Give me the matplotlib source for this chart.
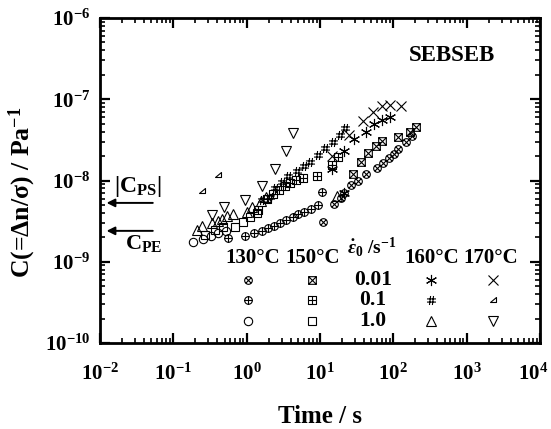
import numpy as np
import matplotlib
matplotlib.use("Agg")
import matplotlib.pyplot as plt
from matplotlib.path import Path
from matplotlib.ticker import LogLocator, NullFormatter
from matplotlib.transforms import ScaledTranslation

plt.rcParams.update({
    "font.family": "serif",
    "font.serif": ["Liberation Serif", "DejaVu Serif"],
    "font.weight": "bold",
    "mathtext.fontset": "custom",
    "mathtext.rm": "Liberation Serif:bold",
    "mathtext.it": "Liberation Serif:italic:bold",
    "mathtext.bf": "Liberation Serif:bold",
    "axes.unicode_minus": False,
})

# ---- data (t in s, C in Pa^-1) ----
t_130_001 = [11.0, 15.5, 19.4, 21.2, 26.5, 33.0, 42.4, 59.8, 72.3, 87.3, 102, 116, 149, 180]
C_130_001 = [3.08e-9, 5.14e-9, 6.10e-9, 7.02e-9, 8.81e-9, 9.86e-9, 1.20e-8, 1.43e-8, 1.64e-8,
             1.89e-8, 2.12e-8, 2.44e-8, 2.98e-8, 3.53e-8]
t_130_01 = [0.557, 0.948, 1.26, 1.62, 1.95, 2.36, 2.85, 3.44, 4.29, 5.01, 6.05, 7.53, 9.40, 10.6]
C_130_01 = [1.96e-9, 2.07e-9, 2.26e-9, 2.39e-9, 2.60e-9, 2.75e-9, 3.00e-9, 3.27e-9, 3.56e-9,
            3.87e-9, 4.09e-9, 4.46e-9, 4.99e-9, 7.21e-9]
t_130_1 = [0.185, 0.254, 0.327, 0.406, 0.522]
C_130_1 = [1.75e-9, 1.91e-9, 2.07e-9, 2.26e-9, 2.39e-9]

t_150_001 = [28.2, 36.2, 45.2, 58.1, 70.2, 116, 169, 204]
C_150_001 = [1.20e-8, 1.69e-8, 2.18e-8, 2.66e-8, 3.06e-8, 3.43e-8, 3.95e-8, 4.55e-8]
t_150_01 = [1.43, 1.89, 2.29, 2.76, 3.33, 3.90, 4.71, 5.86, 9.10, 14.6, 17.6]
C_150_01 = [4.34e-9, 5.92e-9, 6.82e-9, 7.64e-9, 8.55e-9, 9.31e-9, 1.01e-8, 1.07e-8, 1.14e-8,
            1.55e-8, 1.95e-8]
t_150_1 = [0.270, 0.370, 0.475, 0.693, 0.891, 1.11, 1.38]
C_150_1 = [2.13e-9, 2.46e-9, 2.68e-9, 2.68e-9, 3.08e-9, 3.56e-9, 3.98e-9]

t_160_001 = [21.2, 14.6, 21.2, 29.1, 42.4, 54.5, 70.2, 90.2]
C_160_001 = [7.02e-9, 1.39e-8, 2.31e-8, 3.24e-8, 3.95e-8, 4.95e-8, 5.56e-8, 6.05e-8]
t_160_01 = [1.62, 2.08, 2.43, 3.03, 3.66, 4.85, 6.05, 7.31, 9.40, 11.7, 15.0, 18.7, 21.9]
C_160_01 = [5.75e-9, 6.27e-9, 8.09e-9, 9.59e-9, 1.14e-8, 1.31e-8, 1.51e-8, 1.69e-8, 2.06e-8,
            2.51e-8, 2.98e-8, 3.63e-8, 4.43e-8]
t_160_1 = [0.210, 0.246, 0.337, 0.406, 0.461, 0.540, 0.652, 1.01, 1.18, 1.57, 1.84, 17.1]
C_160_1 = [2.46e-9, 2.75e-9, 3.00e-9, 3.18e-9, 3.36e-9, 3.66e-9, 3.87e-9, 4.09e-9, 4.72e-9,
           5.60e-9, 6.27e-9, 6.44e-9]

t_170_001 = [14.6, 24.8, 38.6, 52.8, 70.2, 90.2, 127]
C_170_001 = [2.0e-8, 3.63e-8, 5.4e-8, 6.97e-8, 8.26e-8, 8.5e-8, 8.26e-8]
t_170_01 = [0.246, 0.406]
C_170_01 = [7.43e-9, 1.17e-8]
t_170_1 = [0.337, 0.491, 0.948, 1.62, 2.43, 3.44, 4.29]
C_170_1 = [3.76e-9, 4.72e-9, 5.75e-9, 8.55e-9, 1.39e-8, 2.31e-8, 3.85e-8]

C_PS = 5.3e-9
C_PE = 2.4e-9

temps = ["130°C", "150°C", "160°C", "170°C"]
rates = ["0.01", "0.1", "1.0"]

# ---- custom open markers ----
M, L, C = Path.MOVETO, Path.LINETO, Path.CLOSEPOLY
circ = Path.unit_circle()
sq = Path([(-1, -1), (1, -1), (1, 1), (-1, 1), (-1, -1)], [M, L, L, L, C])
xin_c = Path([(-.7, -.7), (.7, .7), (-.7, .7), (.7, -.7)], [M, L, M, L])
pin_c = Path([(-1, 0), (1, 0), (0, -1), (0, 1)], [M, L, M, L])
xin_s = Path([(-1, -1), (1, 1), (-1, 1), (1, -1)], [M, L, M, L])
otimes = Path.make_compound_path(circ, xin_c)
oplus = Path.make_compound_path(circ, pin_c)
boxtimes = Path.make_compound_path(sq, xin_s)
boxplus = Path.make_compound_path(sq, pin_c)
hashm = Path([(-.45, -1), (-.2, 1), (.2, -1), (.45, 1), (-1, .35), (1, .35), (-1, -.35), (1, -.35)],
             [M, L, M, L, M, L, M, L])
rtri = Path([(-1, -.6), (1, -.6), (1, 1), (-1, -.6)], [M, L, L, C])

series = [
    (t_130_001, C_130_001, otimes, 5.5), (t_130_01, C_130_01, oplus, 5.5), (t_130_1, C_130_1, "o", 6),
    (t_150_001, C_150_001, boxtimes, 5.5), (t_150_01, C_150_01, boxplus, 5.5), (t_150_1, C_150_1, "s", 5.8),
    (t_160_001, C_160_001, (6, 2, 0), 8), (t_160_01, C_160_01, hashm, 6.5), (t_160_1, C_160_1, "^", 7),
    (t_170_001, C_170_001, "x", 7), (t_170_01, C_170_01, rtri, 5), (t_170_1, C_170_1, "v", 7),
]

fig = plt.figure(figsize=(5.51, 4.29), dpi=100)
ax = fig.add_axes([100 / 551, 1 - 343 / 429, 440 / 551, 325 / 429])
ax.set_xscale("log"); ax.set_yscale("log")
ax.set_xlim(1e-2, 1e4); ax.set_ylim(1e-10, 1e-6)

for t, c, mk, ms in series:
    ax.plot(t, c, ls="none", marker=mk, ms=ms, mfc="none", mec="black", mew=0.8)

# ---- axes styling ----
for s in ax.spines.values():
    s.set_linewidth(2)
for axis in (ax.xaxis, ax.yaxis):
    axis.set_major_locator(LogLocator(base=10, numticks=12))
    axis.set_minor_locator(LogLocator(base=10, subs=np.arange(2, 10), numticks=100))
    axis.set_minor_formatter(NullFormatter())
ax.tick_params(which="both", direction="in", top=True, right=True)
ax.tick_params(which="major", length=7, width=1.6, labelsize=15)
ax.tick_params(axis="x", which="major", pad=15)
ax.tick_params(axis="y", which="major", pad=7)
ax.tick_params(which="minor", length=3.5, width=1.2)

ax.set_xlabel("Time / s", fontsize=18, fontweight="bold")
ax.xaxis.set_label_coords(0.5, -0.19)
ax.set_ylabel("C(=Δn/σ) / Pa$^{-1}$", fontsize=18.5, fontweight="bold")
ax.yaxis.set_label_coords(-0.14, 0.465)

ax.text(0.80, 0.885, "SEBSEB", transform=ax.transAxes, ha="center", va="center", fontsize=16.5)

# reference levels
for val in (C_PS, C_PE):
    ax.annotate("", xy=(0.015, val), xytext=(0.12, val), xycoords=("axes fraction", "data"),
                arrowprops=dict(arrowstyle="-|>", lw=1.4, color="black", mutation_scale=12,
                                shrinkA=0, shrinkB=0))
ax.text(0.086, 0.483, "|C$_{\\mathrm{PS}}$|", transform=ax.transAxes, ha="center", va="center", fontsize=17)
ax.text(0.10, 0.305, "C$_{\\mathrm{PE}}$", transform=ax.transAxes, ha="center", va="center", fontsize=16)

# ---- table-style key ----
col_x = [0.336, 0.482, 0.752, 0.893]
head_x = [0.346, 0.484, 0.754, 0.889]
row_y = [0.194, 0.132, 0.068]
for tx, lab in zip(head_x, temps):
    ax.text(tx, 0.262, lab, transform=ax.transAxes, ha="center", va="center", fontsize=15)
ax.text(0.618, 0.295, r"$\dot{\varepsilon}_0$ /s$^{-1}$", transform=ax.transAxes,
        ha="center", va="center", fontsize=14)
for ry, lab in zip(row_y, rates):
    ax.text(0.620, ry, lab, transform=ax.transAxes, ha="center", va="center", fontsize=15.5)
for i, (_, _, mk, ms) in enumerate(series):
    ax.plot([col_x[i // 3]], [row_y[i % 3]], transform=ax.transAxes, ls="none", marker=mk,
            ms=ms, mfc="none", mec="black", mew=0.8, clip_on=False)

# nudge the last x tick label so it stays inside the canvas
fig.canvas.draw()
for tick in ax.xaxis.get_major_ticks():
    if tick.get_loc() >= 0.99e4:
        lab = tick.label1
        lab.set_transform(lab.get_transform() + ScaledTranslation(-0.07, 0, fig.dpi_scale_trans))

fig.savefig("out.png", dpi=100)
